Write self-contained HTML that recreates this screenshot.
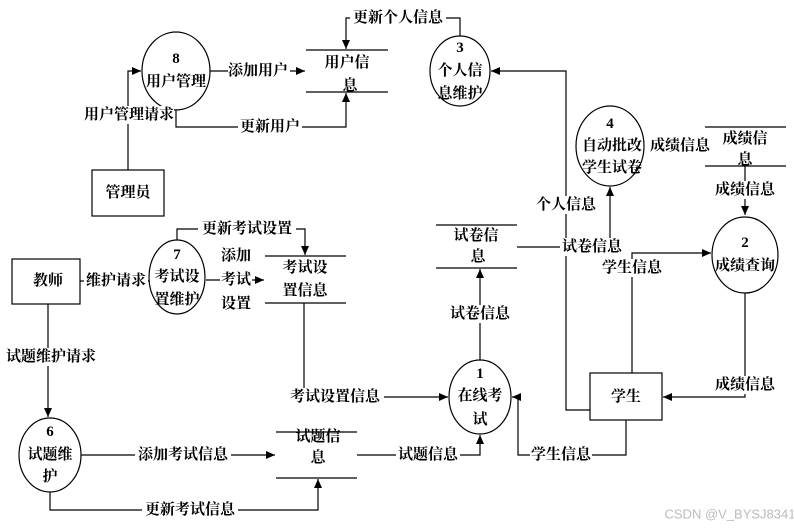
<!DOCTYPE html>
<html><head><meta charset="utf-8"><style>
html,body{margin:0;padding:0;background:#fff;}
svg{display:block;}
text{font-family:"Liberation Serif","Noto Serif CJK SC",serif;font-size:15px;font-weight:bold;fill:#000;text-anchor:middle;dominant-baseline:central;}
.bg{fill:#fff;}
</style></head><body>
<svg width="794" height="528" viewBox="0 0 794 528" xmlns="http://www.w3.org/2000/svg">
<defs><marker id="a" markerWidth="10" markerHeight="10" refX="9" refY="5" orient="auto" markerUnits="userSpaceOnUse"><path d="M0,1 L9,5 L0,9 z" fill="#000"/></marker></defs>
<g stroke="#000" stroke-width="1.2" fill="none">
<!-- circles -->
<ellipse cx="176" cy="71" rx="34" ry="39"/>
<ellipse cx="460" cy="71" rx="30" ry="35"/>
<ellipse cx="610" cy="146" rx="34" ry="40"/>
<ellipse cx="745" cy="255" rx="33" ry="38"/>
<ellipse cx="480" cy="397" rx="31" ry="37"/>
<ellipse cx="177" cy="277" rx="28" ry="37"/>
<ellipse cx="50" cy="455" rx="31" ry="37"/>
<!-- boxes -->
<rect x="92" y="170" width="72" height="46"/>
<rect x="590" y="373" width="72" height="47"/>
<rect x="12" y="259" width="68" height="45"/>
<!-- stores -->
<path d="M306 50H388M306 92H388"/>
<path d="M705 127H786M705 166H786"/>
<path d="M436 225H517M436 268H517"/>
<path d="M276 432H357M276 478H357"/>
<path d="M265 256H346M265 303H346"/>
<!-- connectors -->
<path d="M210 71H305" marker-end="url(#a)"/>
<path d="M128 170V71H141" marker-end="url(#a)"/>
<path d="M176 110V127H346V93" marker-end="url(#a)"/>
<path d="M460 36V18H346V49" marker-end="url(#a)"/>
<path d="M590 410H566V71H491" marker-end="url(#a)"/>
<path d="M517 247H590"/>
<path d="M610 247V187" marker-end="url(#a)"/>
<path d="M632 373V253H711" marker-end="url(#a)"/>
<path d="M745 166V215" marker-end="url(#a)"/>
<path d="M745 293V397H663" marker-end="url(#a)"/>
<path d="M480 360V269" marker-end="url(#a)"/>
<path d="M626 420V455H518V397H512" marker-end="url(#a)"/>
<path d="M357 455H480V435" marker-end="url(#a)"/>
<path d="M304 303V397H448" marker-end="url(#a)"/>
<path d="M177 240V229H305V255" marker-end="url(#a)"/>
<path d="M206 280H264" marker-end="url(#a)"/>
<path d="M80 281H149"/>
<path d="M48 304V417" marker-end="url(#a)"/>
<path d="M81 455H275" marker-end="url(#a)"/>
<path d="M50 492V510H318V479" marker-end="url(#a)"/>
</g>
<!-- label backgrounds -->
<g class="bg">
<rect x="228" y="62" width="62" height="18"/>
<rect x="84" y="106" width="90" height="18"/>
<rect x="238" y="118" width="64" height="18"/>
<rect x="350" y="9" width="96" height="18"/>
<rect x="536" y="196" width="62" height="18"/>
<rect x="560" y="238" width="64" height="18"/>
<rect x="600" y="259" width="64" height="18"/>
<rect x="714" y="181" width="62" height="18"/>
<rect x="714" y="376" width="62" height="18"/>
<rect x="448" y="305" width="64" height="18"/>
<rect x="530" y="446" width="62" height="18"/>
<rect x="396" y="446" width="64" height="18"/>
<rect x="288" y="388" width="96" height="18"/>
<rect x="198" y="220" width="98" height="18"/>
<rect x="220" y="246" width="32" height="68"/>
<rect x="84" y="272" width="64" height="18"/>
<rect x="4" y="348" width="94" height="18"/>
<rect x="135" y="446" width="96" height="18"/>
<rect x="142" y="501" width="96" height="18"/>
</g>
<!-- texts -->
<text x="176" y="59">8</text><text x="176" y="82">用户管理</text>
<text x="258" y="71">添加用户</text>
<text x="347" y="63">用户信</text><text x="350" y="86">息</text>
<text x="129" y="115">用户管理请求</text>
<text x="270" y="127">更新用户</text>
<text x="128" y="193">管理员</text>
<text x="398" y="18">更新个人信息</text>
<text x="460" y="48">3</text><text x="460" y="71">个人信</text><text x="460" y="94">息维护</text>
<text x="610" y="124">4</text><text x="612" y="146">自动批改</text><text x="612" y="168">学生试卷</text>
<text x="680" y="146">成绩信息</text>
<text x="745" y="139">成绩信</text><text x="745" y="160">息</text>
<text x="745" y="190">成绩信息</text>
<text x="745" y="243">2</text><text x="745" y="266">成绩查询</text>
<text x="566" y="205">个人信息</text>
<text x="476" y="236">试卷信</text><text x="478" y="257">息</text>
<text x="592" y="247">试卷信息</text>
<text x="632" y="268">学生信息</text>
<text x="626" y="397">学生</text>
<text x="745" y="385">成绩信息</text>
<text x="480" y="314">试卷信息</text>
<text x="480" y="374">1</text><text x="480" y="396">在线考</text><text x="480" y="420">试</text>
<text x="561" y="455">学生信息</text>
<text x="428" y="455">试题信息</text>
<text x="318" y="437">试题信</text><text x="318" y="458">息</text>
<text x="335" y="397">考试设置信息</text>
<text x="305" y="268">考试设</text><text x="305" y="291">置信息</text>
<text x="177" y="255">7</text><text x="177" y="277">考试设</text><text x="177" y="300">置维护</text>
<text x="247" y="229">更新考试设置</text>
<text x="236" y="256">添加</text><text x="236" y="280">考试</text><text x="236" y="304">设置</text>
<text x="48" y="281">教师</text>
<text x="116" y="281">维护请求</text>
<text x="51" y="357">试题维护请求</text>
<text x="50" y="432">6</text><text x="50" y="455">试题维</text><text x="50" y="477">护</text>
<text x="183" y="455">添加考试信息</text>
<text x="190" y="510">更新考试信息</text>
<text x="730" y="514" style="font-family:'Liberation Sans',sans-serif;font-weight:normal;font-size:13px;fill:#bbb;">CSDN @V_BYSJ8341</text>
</svg>
</body></html>
